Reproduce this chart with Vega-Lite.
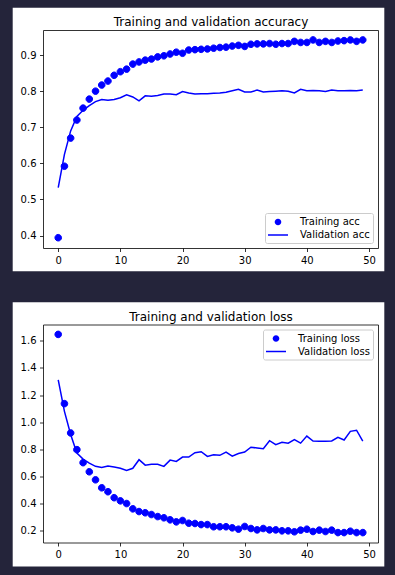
{
  "$schema": "https://vega.github.io/schema/vega-lite/v6.json",
  "background": "#24243a",
  "padding": {"left": 12, "top": 7, "right": 11, "bottom": 10},
  "spacing": 29.5,
  "datasets": {
    "history": [
      {"epoch": 0, "acc": 0.394, "val_acc": 0.533, "loss": 1.647, "val_loss": 1.312},
      {"epoch": 1, "acc": 0.592, "val_acc": 0.625, "loss": 1.137, "val_loss": 1.080},
      {"epoch": 2, "acc": 0.670, "val_acc": 0.690, "loss": 0.921, "val_loss": 0.910},
      {"epoch": 3, "acc": 0.720, "val_acc": 0.730, "loss": 0.798, "val_loss": 0.773},
      {"epoch": 4, "acc": 0.753, "val_acc": 0.747, "loss": 0.702, "val_loss": 0.728},
      {"epoch": 5, "acc": 0.778, "val_acc": 0.760, "loss": 0.635, "val_loss": 0.699},
      {"epoch": 6, "acc": 0.800, "val_acc": 0.771, "loss": 0.576, "val_loss": 0.675},
      {"epoch": 7, "acc": 0.817, "val_acc": 0.777, "loss": 0.517, "val_loss": 0.666},
      {"epoch": 8, "acc": 0.828, "val_acc": 0.775, "loss": 0.488, "val_loss": 0.678},
      {"epoch": 9, "acc": 0.844, "val_acc": 0.777, "loss": 0.444, "val_loss": 0.670},
      {"epoch": 10, "acc": 0.854, "val_acc": 0.782, "loss": 0.421, "val_loss": 0.661},
      {"epoch": 11, "acc": 0.861, "val_acc": 0.790, "loss": 0.401, "val_loss": 0.645},
      {"epoch": 12, "acc": 0.875, "val_acc": 0.784, "loss": 0.362, "val_loss": 0.661},
      {"epoch": 13, "acc": 0.881, "val_acc": 0.773, "loss": 0.342, "val_loss": 0.724},
      {"epoch": 14, "acc": 0.886, "val_acc": 0.787, "loss": 0.333, "val_loss": 0.684},
      {"epoch": 15, "acc": 0.889, "val_acc": 0.786, "loss": 0.320, "val_loss": 0.690},
      {"epoch": 16, "acc": 0.895, "val_acc": 0.788, "loss": 0.305, "val_loss": 0.690},
      {"epoch": 17, "acc": 0.898, "val_acc": 0.792, "loss": 0.296, "val_loss": 0.675},
      {"epoch": 18, "acc": 0.903, "val_acc": 0.792, "loss": 0.281, "val_loss": 0.721},
      {"epoch": 19, "acc": 0.908, "val_acc": 0.790, "loss": 0.266, "val_loss": 0.711},
      {"epoch": 20, "acc": 0.905, "val_acc": 0.799, "loss": 0.276, "val_loss": 0.743},
      {"epoch": 21, "acc": 0.914, "val_acc": 0.795, "loss": 0.256, "val_loss": 0.743},
      {"epoch": 22, "acc": 0.915, "val_acc": 0.792, "loss": 0.254, "val_loss": 0.776},
      {"epoch": 23, "acc": 0.916, "val_acc": 0.793, "loss": 0.246, "val_loss": 0.783},
      {"epoch": 24, "acc": 0.917, "val_acc": 0.793, "loss": 0.246, "val_loss": 0.748},
      {"epoch": 25, "acc": 0.919, "val_acc": 0.794, "loss": 0.230, "val_loss": 0.761},
      {"epoch": 26, "acc": 0.921, "val_acc": 0.795, "loss": 0.230, "val_loss": 0.756},
      {"epoch": 27, "acc": 0.922, "val_acc": 0.797, "loss": 0.230, "val_loss": 0.780},
      {"epoch": 28, "acc": 0.925, "val_acc": 0.801, "loss": 0.222, "val_loss": 0.750},
      {"epoch": 29, "acc": 0.927, "val_acc": 0.805, "loss": 0.212, "val_loss": 0.770},
      {"epoch": 30, "acc": 0.924, "val_acc": 0.798, "loss": 0.232, "val_loss": 0.780},
      {"epoch": 31, "acc": 0.930, "val_acc": 0.798, "loss": 0.217, "val_loss": 0.816},
      {"epoch": 32, "acc": 0.931, "val_acc": 0.803, "loss": 0.207, "val_loss": 0.810},
      {"epoch": 33, "acc": 0.931, "val_acc": 0.798, "loss": 0.217, "val_loss": 0.805},
      {"epoch": 34, "acc": 0.932, "val_acc": 0.799, "loss": 0.207, "val_loss": 0.864},
      {"epoch": 35, "acc": 0.930, "val_acc": 0.800, "loss": 0.207, "val_loss": 0.835},
      {"epoch": 36, "acc": 0.932, "val_acc": 0.801, "loss": 0.200, "val_loss": 0.852},
      {"epoch": 37, "acc": 0.932, "val_acc": 0.800, "loss": 0.200, "val_loss": 0.846},
      {"epoch": 38, "acc": 0.938, "val_acc": 0.795, "loss": 0.193, "val_loss": 0.872},
      {"epoch": 39, "acc": 0.935, "val_acc": 0.805, "loss": 0.205, "val_loss": 0.846},
      {"epoch": 40, "acc": 0.935, "val_acc": 0.801, "loss": 0.212, "val_loss": 0.898},
      {"epoch": 41, "acc": 0.942, "val_acc": 0.802, "loss": 0.195, "val_loss": 0.861},
      {"epoch": 42, "acc": 0.935, "val_acc": 0.801, "loss": 0.205, "val_loss": 0.860},
      {"epoch": 43, "acc": 0.938, "val_acc": 0.799, "loss": 0.195, "val_loss": 0.860},
      {"epoch": 44, "acc": 0.935, "val_acc": 0.803, "loss": 0.205, "val_loss": 0.862},
      {"epoch": 45, "acc": 0.939, "val_acc": 0.801, "loss": 0.187, "val_loss": 0.889},
      {"epoch": 46, "acc": 0.940, "val_acc": 0.801, "loss": 0.187, "val_loss": 0.869},
      {"epoch": 47, "acc": 0.942, "val_acc": 0.802, "loss": 0.197, "val_loss": 0.933},
      {"epoch": 48, "acc": 0.938, "val_acc": 0.801, "loss": 0.187, "val_loss": 0.941},
      {"epoch": 49, "acc": 0.942, "val_acc": 0.803, "loss": 0.187, "val_loss": 0.860}
    ]
  },
  "vconcat": [
    {
      "width": 335,
      "height": 218,
      "data": {"name": "history"},
      "layer": [
        {
          "data": {"values": [{}]},
          "mark": {"type": "rect", "fill": "white"},
          "encoding": {
            "x": {"datum": -7.325, "type": "quantitative", "scale": {"domain": [-2.45, 51.45], "nice": false, "zero": false}, "axis": null},
            "x2": {"datum": 52.464},
            "y": {"datum": 1.0313, "type": "quantitative", "scale": {"domain": [0.3655, 0.9695], "nice": false, "zero": false}, "axis": null},
            "y2": {"datum": 0.3012}
          }
        },
        {
          "mark": {"type": "point", "filled": true, "size": 144, "color": "#0000ff", "stroke": "#0000ff", "strokeWidth": 1, "opacity": 1},
          "encoding": {
            "x": {"field": "epoch", "type": "quantitative", "scale": {"domain": [-2.45, 51.45], "nice": false, "zero": false},
                  "axis": {"orient": "bottom", "title": null, "zindex": 2, "values": [0, 10, 20, 30, 40, 50]}},
            "y": {"field": "acc", "type": "quantitative", "scale": {"domain": [0.3655, 0.9695], "nice": false, "zero": false},
                  "axis": {"orient": "left", "title": null, "zindex": 2, "values": [0.4, 0.5, 0.6, 0.7, 0.8, 0.9], "format": ".1f"}},
            "shape": {"datum": "Training acc",
                      "scale": {"domain": ["Training acc", "Validation acc"], "range": ["M-0.55,0A0.55,0.55,0,1,0,0.55,0A0.55,0.55,0,1,0,-0.55,0Z", "M-1.667,-0.125L1.667,-0.125L1.667,0.125L-1.667,0.125Z"]},
                      "legend": {"orient": "bottom-right",
                                 "encode": {"symbols": {"update": {"fill": {"value": "#0000ff"}, "stroke": {"value": "#0000ff"}, "strokeWidth": {"value": 0}, "opacity": {"value": 1}}}}}}
          }
        },
        {
          "mark": {"type": "line", "color": "#0000ff", "strokeWidth": 1.5},
          "encoding": {
            "x": {"field": "epoch", "type": "quantitative", "scale": {"domain": [-2.45, 51.45], "nice": false, "zero": false},
                  "axis": {"orient": "top", "title": "Training and validation accuracy", "zindex": 2, "labels": false, "ticks": false}},
            "y": {"field": "val_acc", "type": "quantitative", "scale": {"domain": [0.3655, 0.9695], "nice": false, "zero": false},
                  "axis": {"orient": "right", "title": null, "zindex": 2, "labels": false, "ticks": false}}
          }
        }
      ],
      "resolve": {"axis": {"x": "independent", "y": "independent"}}
    },
    {
      "width": 335,
      "height": 218,
      "data": {"name": "history"},
      "layer": [
        {
          "data": {"values": [{}]},
          "mark": {"type": "rect", "fill": "white"},
          "encoding": {
            "x": {"datum": -7.325, "type": "quantitative", "scale": {"domain": [-2.45, 51.45], "nice": false, "zero": false}, "axis": null},
            "x2": {"datum": 52.464},
            "y": {"datum": 1.8843, "type": "quantitative", "scale": {"domain": [0.114, 1.72], "nice": false, "zero": false}, "axis": null},
            "y2": {"datum": -0.0628}
          }
        },
        {
          "mark": {"type": "point", "filled": true, "size": 144, "color": "#0000ff", "stroke": "#0000ff", "strokeWidth": 1, "opacity": 1},
          "encoding": {
            "x": {"field": "epoch", "type": "quantitative", "scale": {"domain": [-2.45, 51.45], "nice": false, "zero": false},
                  "axis": {"orient": "bottom", "title": null, "zindex": 2, "values": [0, 10, 20, 30, 40, 50]}},
            "y": {"field": "loss", "type": "quantitative", "scale": {"domain": [0.114, 1.72], "nice": false, "zero": false},
                  "axis": {"orient": "left", "title": null, "zindex": 2, "values": [0.2, 0.4, 0.6, 0.8, 1.0, 1.2, 1.4, 1.6], "format": ".1f"}},
            "shape": {"datum": "Training loss",
                      "scale": {"domain": ["Training loss", "Validation loss"], "range": ["M-0.55,0A0.55,0.55,0,1,0,0.55,0A0.55,0.55,0,1,0,-0.55,0Z", "M-1.667,-0.125L1.667,-0.125L1.667,0.125L-1.667,0.125Z"]},
                      "legend": {"orient": "top-right",
                                 "encode": {"symbols": {"update": {"fill": {"value": "#0000ff"}, "stroke": {"value": "#0000ff"}, "strokeWidth": {"value": 0}, "opacity": {"value": 1}}}}}}
          }
        },
        {
          "mark": {"type": "line", "color": "#0000ff", "strokeWidth": 1.5},
          "encoding": {
            "x": {"field": "epoch", "type": "quantitative", "scale": {"domain": [-2.45, 51.45], "nice": false, "zero": false},
                  "axis": {"orient": "top", "title": "Training and validation loss", "zindex": 2, "labels": false, "ticks": false}},
            "y": {"field": "val_loss", "type": "quantitative", "scale": {"domain": [0.114, 1.72], "nice": false, "zero": false},
                  "axis": {"orient": "right", "title": null, "zindex": 2, "labels": false, "ticks": false}}
          }
        }
      ],
      "resolve": {"axis": {"x": "independent", "y": "independent"}}
    }
  ],
  "resolve": {"scale": {"x": "independent", "y": "independent", "shape": "independent"}},
  "config": {
    "font": "DejaVu Sans",
    "view": {"stroke": null},
    "axis": {
      "grid": false,
      "domainColor": "#000000",
      "domainWidth": 0.8,
      "tickColor": "#000000",
      "tickWidth": 0.8,
      "tickSize": 3.5,
      "labelPadding": 3.5,
      "labelFontSize": 10,
      "labelFont": "DejaVu Sans",
      "labelColor": "#000000",
      "labelFlush": false,
      "labelOverlap": false,
      "titleFont": "DejaVu Sans",
      "titleFontSize": 12,
      "titleFontWeight": "normal",
      "titleColor": "#000000",
      "titlePadding": 4.5,
      "titleBaseline": "alphabetic"
    },
    "legend": {
      "title": null,
      "offset": 5,
      "padding": 3,
      "rowPadding": 2,
      "symbolSize": 144,
      "symbolOffset": 4,
      "labelOffset": 16,
      "symbolStrokeWidth": 0,
      "symbolStrokeColor": "#0000ff",
      "symbolFillColor": "#0000ff",
      "fillColor": "rgba(255,255,255,0.8)",
      "strokeColor": "#cccccc",
      "cornerRadius": 2,
      "labelFont": "DejaVu Sans",
      "labelFontSize": 10,
      "labelColor": "#000000",
      "zindex": 1
    }
  }
}
